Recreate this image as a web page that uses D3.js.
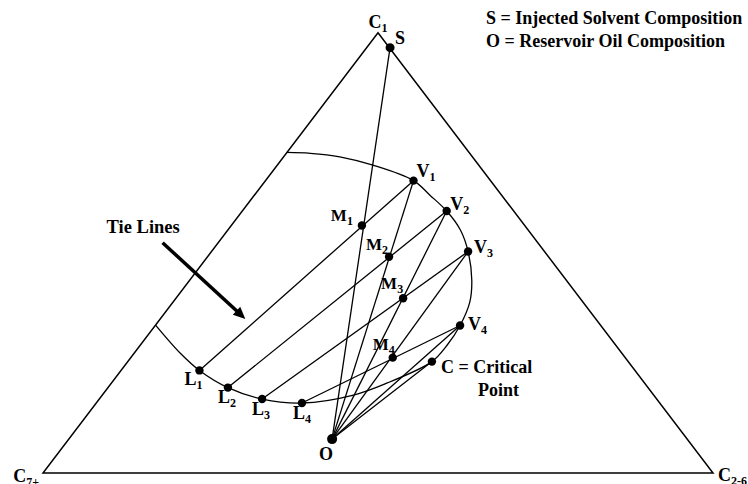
<!DOCTYPE html>
<html>
<head>
<meta charset="utf-8">
<script src="https://cdn.jsdelivr.net/npm/d3@7"></script>
<style>
body { margin: 0; background: #fff; }
text { font-family: "Liberation Serif", "Times New Roman", serif; font-weight: bold; fill: #000; }
</style>
</head>
<body>
<svg id="chart" width="748" height="484"></svg>
<script>
// compositions are fractions [C1, C2-6]; C7+ = 1 - C1 - C2-6
const vertexNames = ["C1", "C2-6", "C7+"]
const vertexC1 = [1, 0, 0]
const vertexC26 = [0, 1, 0]

const liquidNames = ["L1", "L2", "L3", "L4"]
const liquidC1 = [0.233, 0.194, 0.168, 0.159]
const liquidC26 = [0.117, 0.179, 0.243, 0.307]

const vaporNames = ["V1", "V2", "V3", "V4"]
const vaporC1 = [0.664, 0.595, 0.503, 0.335]
const vaporC26 = [0.221, 0.305, 0.383, 0.455]

const mixNames = ["M1", "M2", "M3", "M4"]
const mixC1 = [0.562, 0.491, 0.397, 0.262]
const mixC26 = [0.195, 0.271, 0.339, 0.391]

const solvent = { name: "S", c1: 0.966, c26: 0.035 }
const oil = { name: "O", c1: 0.077, c26: 0.393 }
const critical = { name: "C", c1: 0.253, c26: 0.454 }

// two-phase envelope, from the C1-C7+ side round to the other end on the same side
const envelopeC1 = [0.728, 0.726, 0.718, 0.699, 0.664, 0.631, 0.595, 0.552, 0.503, 0.438, 0.388, 0.335,
    0.289, 0.253, 0.204, 0.177, 0.159, 0.168, 0.194, 0.233, 0.272, 0.336]
const envelopeC26 = [0.000, 0.036, 0.084, 0.143, 0.221, 0.262, 0.305, 0.347, 0.383, 0.421, 0.443, 0.455,
    0.458, 0.454, 0.411, 0.375, 0.307, 0.243, 0.179, 0.117, 0.069, 0.000]

const legendLines = ["S = Injected Solvent Composition", "O = Reservoir Oil Composition"]
const arrowLabel = "Tie Lines"
const arrowFrom = { c1: 0.523, c26: -0.083 }
const arrowTo = { c1: 0.350, c26: 0.127 }

const svg = d3.select("#chart")
const x = d3.scaleLinear().domain([0, 1]).range([43, 713])
const y = d3.scaleLinear().domain([0, 1]).range([473, 32.7])
// C1 at the top, C2-6 bottom right, C7+ bottom left
const px = (c1, c26) => x(c26 + c1 / 2)
const py = (c1) => y(c1)
const pt = (c1, c26) => [px(c1, c26), py(c1)]

const labels = svg.append("g")
const lines = svg.append("g").attr("stroke", "#000").attr("fill", "none")
const dots = svg.append("g")

// label with a subscript: "V1" -> V + small 1
function label(name, xx, yy, anchor, size) {
    size = size || 18
    const t = labels.append("text")
        .attr("x", xx).attr("y", yy)
        .attr("text-anchor", anchor || "start")
        .style("font-size", size + "px")
    t.append("tspan").text(name.slice(0, 1))
    if (name.length > 1)
        t.append("tspan").attr("dy", 4).style("font-size", Math.round(size * 0.68) + "px").text(name.slice(1))
    return t
}

// triangle
lines.append("path")
    .attr("d", d3.line()(vertexNames.map((d, i) => pt(vertexC1[i], vertexC26[i]))) + "Z")
    .attr("stroke-width", 1.5)
    .attr("stroke-linejoin", "miter")

const vOffsets = [[0, -5, "middle"], [5, 8, "start"], [-4, 8.5, "end"]]
vertexNames.forEach((n, i) => {
    const [vx, vy] = pt(vertexC1[i], vertexC26[i])
    label(n, vx + vOffsets[i][0], vy + vOffsets[i][1], vOffsets[i][2], 18)
})

// envelope
const envelope = envelopeC1.map((c, i) => pt(c, envelopeC26[i]))
lines.append("path")
    .attr("d", d3.line().curve(d3.curveCatmullRom.alpha(0.5))(envelope))
    .attr("stroke-width", 1.3)

// tie lines
liquidNames.forEach((n, i) => {
    const a = pt(liquidC1[i], liquidC26[i]), b = pt(vaporC1[i], vaporC26[i])
    lines.append("line").attr("x1", a[0]).attr("y1", a[1]).attr("x2", b[0]).attr("y2", b[1]).attr("stroke-width", 1.3)
})

// dilution lines from the oil
const O = pt(oil.c1, oil.c26)
const targets = [[solvent.c1, solvent.c26]]
    .concat(vaporC1.map((c, i) => [c, vaporC26[i]]))
    .concat([[critical.c1, critical.c26]])
targets.forEach(t => {
    const b = pt(t[0], t[1])
    lines.append("line").attr("x1", O[0]).attr("y1", O[1]).attr("x2", b[0]).attr("y2", b[1]).attr("stroke-width", 1.3)
})

// points
const allPoints = []
liquidNames.forEach((n, i) => allPoints.push({ name: n, c1: liquidC1[i], c26: liquidC26[i], r: 4.2 }))
vaporNames.forEach((n, i) => allPoints.push({ name: n, c1: vaporC1[i], c26: vaporC26[i], r: 4.2 }))
mixNames.forEach((n, i) => allPoints.push({ name: n, c1: mixC1[i], c26: mixC26[i], r: 4.2 }))
allPoints.push({ ...solvent, r: 4.5 }, { ...critical, r: 4.2 }, { ...oil, r: 5 })

dots.selectAll("circle")
    .data(allPoints)
    .join("circle")
    .attr("cx", d => px(d.c1, d.c26))
    .attr("cy", d => py(d.c1))
    .attr("r", d => d.r)
    .attr("fill", "#000")

// point labels
const lOff = [[-6, 15], [-1, 15.5], [-1, 16], [0, 16]]
liquidNames.forEach((n, i) => {
    const [lx, ly] = pt(liquidC1[i], liquidC26[i])
    label(n, lx + lOff[i][0], ly + lOff[i][1], "middle")
})
const vOff = [[3, -4], [3.5, -1], [6, 1], [8, 4.5]]
vaporNames.forEach((n, i) => {
    const [lx, ly] = pt(vaporC1[i], vaporC26[i])
    label(n, lx + vOff[i][0], ly + vOff[i][1], "start")
})
const mOff = [[-9, -5], [-1, -6.5], [0, -9], [2, -7.5]]
mixNames.forEach((n, i) => {
    const [lx, ly] = pt(mixC1[i], mixC26[i])
    label(n, lx + mOff[i][0], ly + mOff[i][1], "end", 17)
})
label(solvent.name, pt(solvent.c1, solvent.c26)[0] + 5, py(solvent.c1) - 4, "start")
label(oil.name, O[0] - 6, O[1] + 21, "middle")
const C = pt(critical.c1, critical.c26)
labels.append("text").attr("x", C[0] + 9).attr("y", C[1] + 11).style("font-size", "18px").text("C = Critical")
labels.append("text").attr("x", C[0] + 46).attr("y", C[1] + 34.5).style("font-size", "18px").text("Point")

// legend
labels.selectAll(".legend")
    .data(legendLines)
    .join("text")
    .attr("class", "legend")
    .attr("x", 486)
    .attr("y", (d, i) => 24 + i * 23)
    .style("font-size", "18px")
    .text(d => d)

// tie line arrow
const A0 = pt(arrowFrom.c1, arrowFrom.c26), A1 = pt(arrowTo.c1, arrowTo.c26)
const len = Math.hypot(A1[0] - A0[0], A1[1] - A0[1])
const ux = (A1[0] - A0[0]) / len, uy = (A1[1] - A0[1]) / len
svg.append("line")
    .attr("x1", A0[0]).attr("y1", A0[1])
    .attr("x2", A1[0] - ux * 9).attr("y2", A1[1] - uy * 9)
    .attr("stroke", "#000").attr("stroke-width", 3.5)
const head = 12, half = 5.5
svg.append("path")
    .attr("d", d3.line()([
        A1,
        [A1[0] - ux * head - uy * half, A1[1] - uy * head + ux * half],
        [A1[0] - ux * head + uy * half, A1[1] - uy * head - ux * half]
    ]) + "Z")
    .attr("fill", "#000")
labels.append("text").attr("x", A0[0] - 56).attr("y", A0[1] - 10).style("font-size", "18.5px").text(arrowLabel)
</script>
</body>
</html>
